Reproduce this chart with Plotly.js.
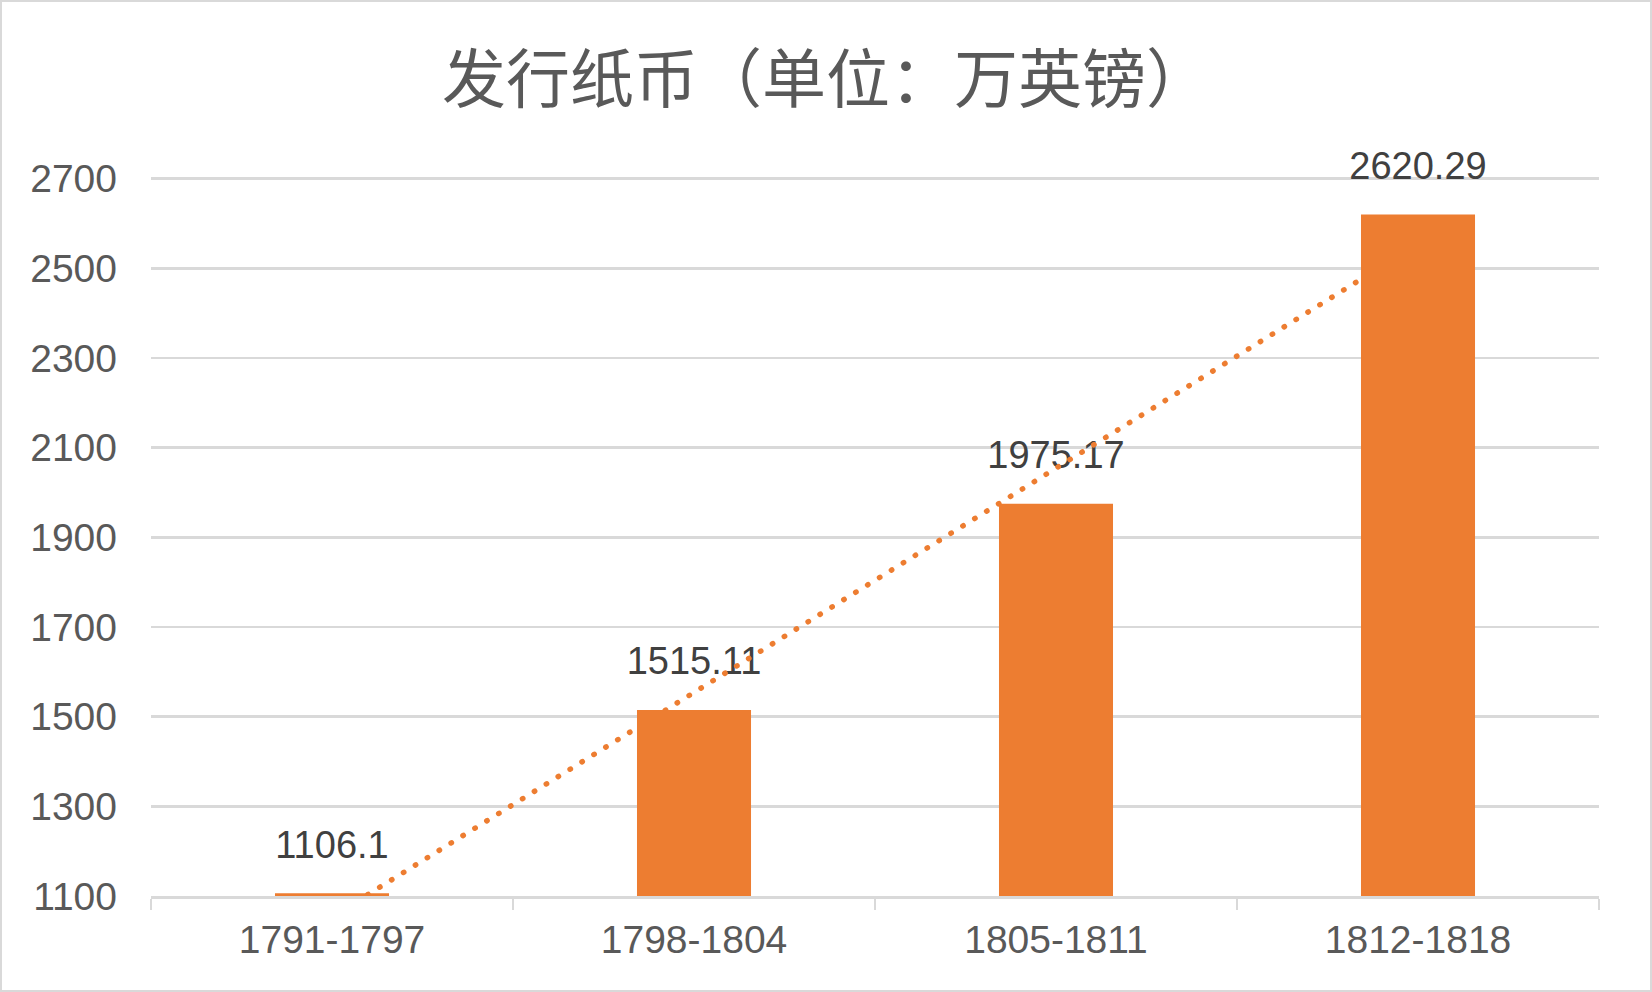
<!DOCTYPE html>
<html>
<head>
<meta charset="utf-8">
<script src="https://cdn.plot.ly/plotly-3.0.1.min.js"></script>
<style>
  body { margin: 0; background: #fff; }
  #chart { width: 1648px; height: 988px; border: 2px solid #d9d9d9; }
</style>
</head>
<body>
<div id="chart"></div>
<script>
// 发行纸币（单位：万英镑）
const periods = ['1791-1797', '1798-1804', '1805-1811', '1812-1818']
const notes = [1106.1, 1515.11, 1975.17, 2620.29]
const labels = ['1106.1', '1515.11', '1975.17', '2620.29']

// linear trendline, same as the spreadsheet one (least squares over 1..n)
const n = notes.length
const xs = notes.map((_, i) => i + 1)
const mx = xs.reduce((a, b) => a + b, 0) / n
const my = notes.reduce((a, b) => a + b, 0) / n
let sxy = 0, sxx = 0
xs.forEach((x, i) => { sxy += (x - mx) * (notes[i] - my); sxx += (x - mx) * (x - mx) })
const slope = sxy / sxx
const trend = xs.map(x => my + slope * (x - mx))

const orange = '#ED7D31'
const grey = '#595959'
const tickFont = { family: 'Liberation Sans, Arial, sans-serif', size: 39, color: grey }
// a bit of headroom so the 2700 gridline is not dropped at the edge
const yRange = [1100, 2706]

const traces = [
  {
    // value labels sit under the dotted line
    x: periods,
    y: notes,
    text: labels,
    mode: 'markers+text',
    textposition: 'top center',
    textfont: { family: 'Liberation Sans, Arial, sans-serif', size: 38, color: '#404040' },
    marker: { size: 40, opacity: 0 },
    cliponaxis: false,
    hoverinfo: 'skip',
    showlegend: false
  },
  {
    x: periods,
    y: trend,
    mode: 'lines',
    line: { color: orange, width: 5.4, dash: '0.5px,13.5px' },
    hoverinfo: 'skip',
    showlegend: false
  },
  {
    // bars on an overlay so they cover the trendline
    x: periods,
    y: notes,
    type: 'bar',
    xaxis: 'x2',
    yaxis: 'y2',
    marker: { color: orange },
    showlegend: false
  }
]

const layout = {
  width: 1648,
  height: 988,
  paper_bgcolor: '#fff',
  plot_bgcolor: 'rgba(0,0,0,0)',
  margin: { l: 149, r: 51, t: 174, b: 94 },
  title: {
    text: '发行纸币（单位：万英镑）',
    font: { family: 'Noto Sans CJK SC, sans-serif', size: 64, color: grey },
    x: 0.5, xref: 'container', xanchor: 'center',
    y: 1 - 78 / 988, yref: 'container', yanchor: 'middle'
  },
  bargap: 0.685,
  xaxis: {
    type: 'category',
    categoryorder: 'array',
    categoryarray: periods,
    range: [-0.5, 3.5],
    showgrid: false,
    showline: true,
    linecolor: '#d9d9d9',
    linewidth: 2.5,
    ticks: 'outside',
    tickson: 'boundaries',
    ticklen: 11,
    tickwidth: 2,
    tickcolor: '#d9d9d9',
    ticklabelstandoff: 8,
    tickfont: tickFont,
    fixedrange: true
  },
  yaxis: {
    range: yRange,
    dtick: 200,
    tick0: 1100,
    showgrid: true,
    gridcolor: '#d9d9d9',
    gridwidth: 2.5,
    zeroline: false,
    showline: false,
    ticks: '',
    ticklabelstandoff: 33,
    tickfont: tickFont,
    fixedrange: true
  },
  xaxis2: {
    type: 'category',
    categoryorder: 'array',
    categoryarray: periods,
    range: [-0.5, 3.5],
    overlaying: 'x',
    visible: false
  },
  yaxis2: {
    range: yRange,
    overlaying: 'y',
    visible: false
  }
}

Plotly.newPlot('chart', traces, layout, { displayModeBar: false, staticPlot: true }).then(() => {
  // round caps turn the short dashes into dots
  document.querySelectorAll('.scatterlayer path.js-line').forEach(p => {
    p.style.strokeLinecap = 'round'
  })
})
</script>
</body>
</html>
